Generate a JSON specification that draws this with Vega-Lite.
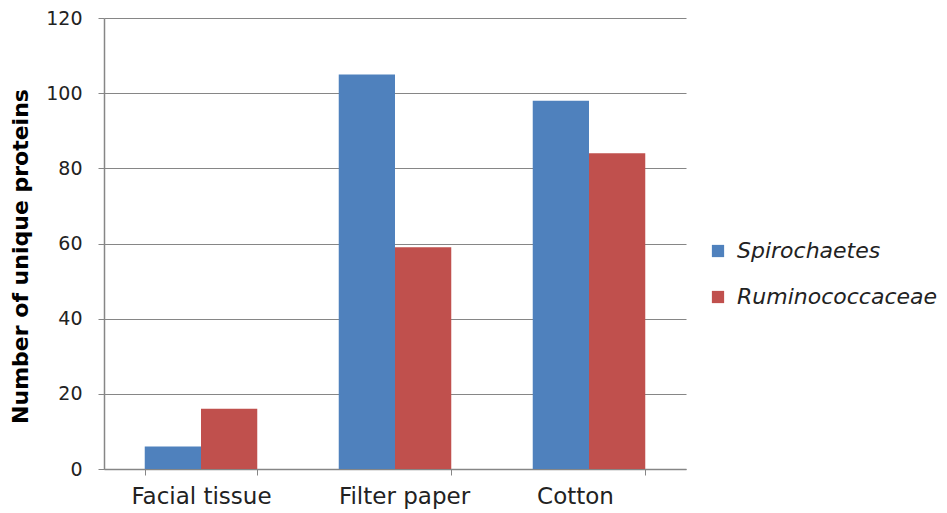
{
  "$schema": "https://vega.github.io/schema/vega-lite/v6.json",
  "width": 582,
  "height": 451,
  "autosize": {"type": "none"},
  "padding": {"left": 104, "top": 18, "right": 261, "bottom": 44},
  "background": "white",
  "config": {
    "font": "DejaVu Sans",
    "view": {"stroke": null},
    "axis": {
      "domainColor": "#868686",
      "tickColor": "#868686",
      "gridColor": "#868686",
      "labelColor": "#222222",
      "labelFont": "DejaVu Sans",
      "titleFont": "DejaVu Sans"
    }
  },
  "data": {
    "values": [
      {"material": "Facial tissue", "taxon": "Spirochaetes", "count": 6},
      {"material": "Facial tissue", "taxon": "Ruminococcaceae", "count": 16},
      {"material": "Filter paper", "taxon": "Spirochaetes", "count": 105},
      {"material": "Filter paper", "taxon": "Ruminococcaceae", "count": 59},
      {"material": "Cotton", "taxon": "Spirochaetes", "count": 98},
      {"material": "Cotton", "taxon": "Ruminococcaceae", "count": 84}
    ]
  },
  "mark": {"type": "bar"},
  "encoding": {
    "x": {
      "field": "material",
      "type": "nominal",
      "sort": ["Facial tissue", "Filter paper", "Cotton"],
      "scale": {"paddingInner": 0.42, "paddingOuter": 0.21},
      "axis": {
        "title": null,
        "labelAngle": 0,
        "labelFontSize": 23,
        "labelOffset": {
          "condition": [
            {"test": "datum.value === 'Filter paper'", "value": 9},
            {"test": "datum.value === 'Cotton'", "value": -14}
          ],
          "value": 0
        },
        "tickBand": "extent",
        "tickSize": 6,
        "labelPadding": 10,
        "domainWidth": 1.5
      }
    },
    "xOffset": {
      "field": "taxon",
      "type": "nominal",
      "sort": ["Spirochaetes", "Ruminococcaceae"],
      "scale": {"paddingInner": 0, "paddingOuter": 0}
    },
    "y": {
      "field": "count",
      "type": "quantitative",
      "scale": {"domain": [0, 120], "nice": false},
      "axis": {
        "title": "Number of unique proteins",
        "titleFontSize": 22,
        "titleFontWeight": "bold",
        "titleColor": "#000000",
        "titlePadding": 13,
        "titleY": 238,
        "labelFontSize": 19,
        "values": [0, 20, 40, 60, 80, 100, 120],
        "tickSize": 6,
        "labelPadding": 16,
        "gridWidth": 1.2,
        "domainWidth": 1.5
      }
    },
    "color": {
      "field": "taxon",
      "type": "nominal",
      "sort": ["Spirochaetes", "Ruminococcaceae"],
      "scale": {"domain": ["Spirochaetes", "Ruminococcaceae"], "range": ["#4F81BD", "#C0504D"]},
      "legend": {
        "title": null,
        "orient": "none",
        "legendX": 603,
        "legendY": 222,
        "symbolType": "square",
        "symbolSize": 150,
        "symbolStrokeWidth": 0,
        "labelFontSize": 22,
        "labelFontStyle": "italic",
        "labelColor": "#222222",
        "labelOffset": 8,
        "labelLimit": 400,
        "rowPadding": 24
      }
    }
  }
}
